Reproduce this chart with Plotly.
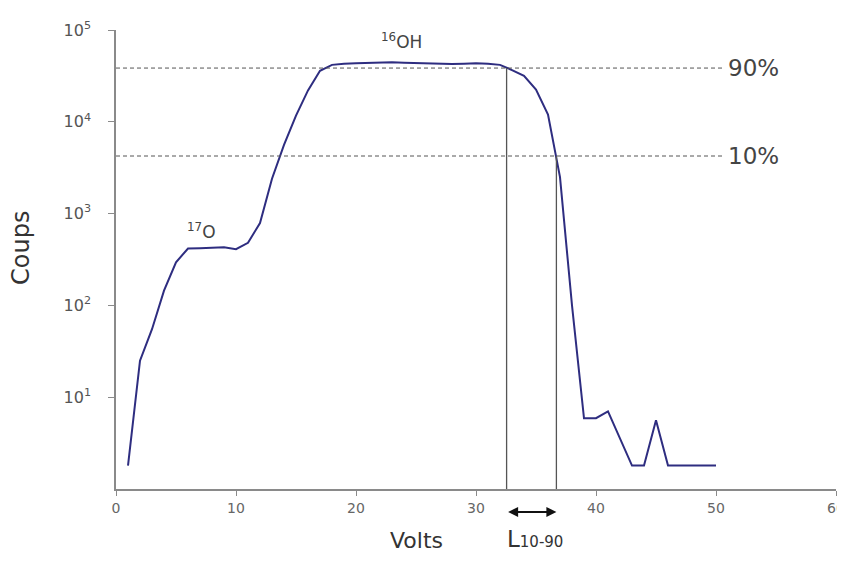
import math
import plotly.graph_objects as go

# ---- data ----
volts = list(range(1, 51))
counts = [1.8, 25, 55, 145, 295, 417, 420, 425, 430, 410,
          480, 790, 2400, 5600, 11700, 22000, 36000, 41700, 43000, 43500,
          44000, 44500, 44500, 44000, 43500, 43000, 43000, 42500, 43000, 43500,
          43000, 41700, 36600, 31600, 22400, 12000, 2500, 100, 5.9, 5.9,
          7.0, 3.5, 1.8, 1.8, 5.6, 1.8, 1.8, 1.8, 1.8, 1.8]

level_values = [38500, 4240]
level_labels = ["90%", "10%"]
level_end = 50.5

l_bounds = [32.55, 36.7]          # volts where the 90% / 10% levels are crossed
l_heights = [38500, 4240]

y_tickvals = [10, 100, 1000, 10000, 100000]
y_ticktext = ["10<sup>1</sup>", "10<sup>2</sup>", "10<sup>3</sup>", "10<sup>4</sup>", "10<sup>5</sup>"]
x_tickvals = [0, 10, 20, 30, 40, 50, 60]

peak_labels = ["<sup>17</sup>O", "<sup>16</sup>OH"]
peak_x = [7.1, 23.8]
peak_y = [640, 76000]

FONT = "DejaVu Sans"
TXT = "#444444"
AX = "#8a8a8a"

fig = go.Figure()
fig.add_trace(go.Scatter(x=volts, y=counts, mode="lines",
                         line=dict(color="#2e2d80", width=2),
                         showlegend=False, hoverinfo="skip"))

shapes = []
annotations = []
for val, lab in zip(level_values, level_labels):
    shapes.append(dict(type="line", xref="x", yref="y", x0=0, x1=level_end,
                       y0=val, y1=val, line=dict(color="#555555", width=1, dash="4px,3px")))
    annotations.append(dict(x=level_end, y=math.log10(val), xref="x", yref="y", text=lab,
                            showarrow=False, xanchor="left", xshift=4,
                            font=dict(family=FONT, size=23, color=TXT)))

for xb, yh in zip(l_bounds, l_heights):
    shapes.append(dict(type="line", xref="x", yref="y", x0=xb, x1=xb,
                       y0=1, y1=yh, line=dict(color="#555555", width=1.3)))

for t, px, py in zip(peak_labels, peak_x, peak_y):
    annotations.append(dict(x=px, y=math.log10(py), xref="x", yref="y", text=t,
                            showarrow=False, font=dict(family=FONT, size=17, color=TXT)))

# last tick label, partly cut by the right edge as in the original
annotations.append(dict(x=x_tickvals[-1], y=-0.041, xref="x", yref="paper",
                        text=str(x_tickvals[-1]), showarrow=False,
                        xanchor="center", yanchor="middle",
                        font=dict(family=FONT, size=14, color="#666666")))

# double arrow for L10-90
annotations.append(dict(x=l_bounds[1], y=-0.05, xref="x", yref="paper",
                        ax=l_bounds[0], ay=0, axref="x", ayref="pixel",
                        text="", showarrow=True, arrowhead=2, arrowside="end+start",
                        arrowsize=1, arrowwidth=2, arrowcolor="#111111"))
annotations.append(dict(x=sum(l_bounds) / 2 + 0.3, y=-0.108, xref="x", yref="paper",
                        xanchor="center", yanchor="middle",
                        text="L<span style='font-size:15px'>10-90</span>",
                        showarrow=False, font=dict(family=FONT, size=23, color="#333333")))
annotations.append(dict(x=25, y=-0.112, xref="x", yref="paper", text="Volts",
                        xanchor="center", yanchor="middle",
                        showarrow=False, font=dict(family=FONT, size=22, color="#333333")))
annotations.append(dict(x=-0.132, y=0.525, xref="paper", yref="paper", text="Coups",
                        xanchor="center", yanchor="middle",
                        textangle=-90, showarrow=False,
                        font=dict(family=FONT, size=24, color="#333333")))

# page body has an 8px margin: the figure is sized to fit inside the window
fig.update_layout(
    width=829, height=546,
    margin=dict(l=108, r=1, t=22, b=65),
    paper_bgcolor="white", plot_bgcolor="white",
    shapes=shapes, annotations=annotations,
    xaxis=dict(range=[0, 60], tickvals=x_tickvals, showgrid=False, zeroline=False,
               showline=True, linecolor=AX, linewidth=1.5, ticks="outside",
               ticklen=5, tickcolor=AX, tickfont=dict(family=FONT, size=14, color="#666666")),
    yaxis=dict(type="log", range=[0, 5], tickvals=y_tickvals, ticktext=y_ticktext,
               showgrid=False, zeroline=False, showline=True, linecolor=AX, linewidth=1.5,
               ticks="outside", ticklen=6, tickcolor=AX, ticklabelstandoff=14,
               tickfont=dict(family=FONT, size=16, color="#555555")),
)

fig.write_html("out.html", config={"displayModeBar": False})
